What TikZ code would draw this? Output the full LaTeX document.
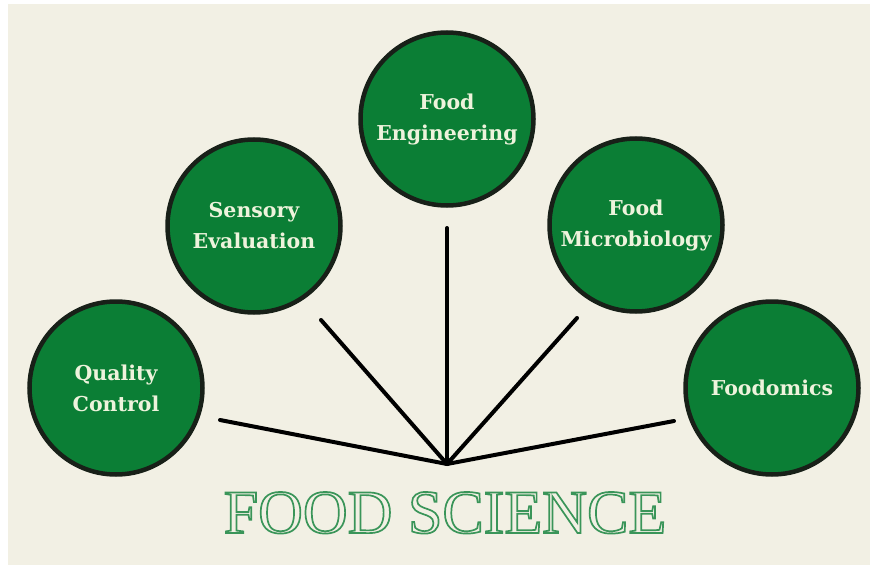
\documentclass[tikz,border=0pt]{standalone}
\usepackage{fontspec}
\newfontfamily\bubblefont{DejaVu Serif}
\newfontfamily\titlefont{Liberation Serif}
\definecolor{paper}{HTML}{F2F0E4}
\definecolor{leaf}{HTML}{0B7E35}
\definecolor{rim}{HTML}{182018}
\definecolor{cream}{HTML}{EEF3DC}
\definecolor{titlegreen}{HTML}{3A9559}
\newcommand\hollow[1]{\special{pdf:literal direct 1 Tr 1.7 w}#1\special{pdf:literal direct 0 Tr 1 w}}
\tikzset{
  bubble/.style={circle, draw=rim, line width=4.5pt, fill=leaf, minimum size=173pt,
    inner sep=0pt, align=center, text=cream,
    font=\bubblefont\bfseries\fontsize{20.5}{31}\selectfont},
  spoke/.style={line width=4pt, line cap=round, black}
}
\begin{document}
\begin{tikzpicture}[x=1pt,y=-1pt]
\useasboundingbox (0,0) rectangle (870,567);
\fill[white] (0,0) rectangle (870,567);
\fill[paper] (8,4) rectangle (870,565);

\node[bubble] (quality) at (116,388) {Quality\\Control};
\node[bubble] (sensory) at (254,226) {Sensory\\Evaluation};
\node[bubble] (engineering) at (447,119) {Food\\Engineering};
\node[bubble] (micro) at (636,225) {Food\\Microbiology};
\node[bubble] (omics) at (772,388) {Foodomics};

\coordinate (hub) at (447,464);
\coordinate (quality-end) at (220,420);
\coordinate (sensory-end) at (321,320);
\coordinate (engineering-end) at (447,228);
\coordinate (micro-end) at (577,318);
\coordinate (omics-end) at (674,421);

\draw[spoke] (hub) -- (quality-end);
\draw[spoke] (hub) -- (sensory-end);
\draw[spoke] (hub) -- (engineering-end);
\draw[spoke] (hub) -- (micro-end);
\draw[spoke] (hub) -- (omics-end);

\node[anchor=base, inner sep=0pt, text=titlegreen, font=\titlefont\fontsize{62}{62}\selectfont]
  (title) at (445,533) {\hollow{FOOD SCIENCE}};
\end{tikzpicture}
\end{document}
